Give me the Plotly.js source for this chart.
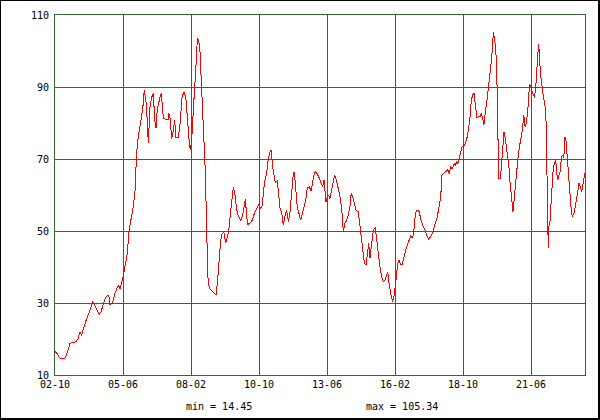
<!DOCTYPE html>
<html>
<head>
<meta charset="utf-8">
<script src="https://cdn.plot.ly/plotly-3.0.1.min.js"></script>
<style>
  html, body { margin: 0; padding: 0; background: #fff; }
  #wrap { position: relative; width: 600px; height: 420px; }
  #chart { width: 600px; height: 420px; }
  #frame { position: absolute; left: 0; top: 0; width: 600px; height: 420px; box-sizing: border-box;
           border: 1px solid #000; border-right-width: 2px; border-bottom-width: 2px; pointer-events: none; }
  .scatterlayer path.js-line { shape-rendering: crispEdges; }
</style>
</head>
<body>
<div id="wrap"><div id="chart"></div><div id="frame"></div></div>
<script>
// months since Oct 2002
const months = [0,0.9,1.9,2.8,3.8,4.7,5.6,6.6,7.1,8.0,8.9,9.9,10.8,11.8,12.6,13.2,14.1,14.9,15.5,16.5,17.7,18.4,19.6,20.8,21.6,22.7,23.5,24.3,25.3,25.9,27.2,28.2,29.2,29.8,30.6,31.7,32.9,34.0,34.8,35.8,36.8,37.6,38.4,39.2,40.0,41.3,42.0,42.8,43.5,43.9,44.7,45.6,46.3,46.9,47.5,48.1,49.1,49.9,50.4,51.0,52.2,53.2,53.6,54.1,54.9,55.7,56.3,56.9,58.0,58.8,59.8,60.8,61.6,62.4,63.2,63.7,64.3,65.1,65.6,66.4,67.0,67.6,68.2,68.7,69.3,69.8,70.3,70.7,71.1,71.4,71.9,72.6,73.7,74.8,75.8,76.4,77.2,78.0,78.7,79.5,80.3,81.1,81.7,82.4,83.9,84.6,85.5,86.4,87.5,88.3,89.1,89.6,90.2,90.7,91.8,92.9,93.6,94.9,95.7,96.8,97.6,98.0,98.8,99.6,100.4,101.2,101.8,102.4,103.1,103.7,104.6,105.3,105.9,106.7,107.4,108.2,109.0,109.8,110.6,111.4,112.1,112.6,113.3,114.0,114.8,115.6,116.4,117.2,118.0,118.7,119.7,120.5,121.3,122.0,122.8,123.6,124.4,125.2,126.0,126.6,127.5,128.1,128.8,129.4,130.2,131.0,131.6,132.6,133.3,134.1,134.9,135.4,135.7,136.3,137.3,138.0,138.8,139.4,140.1,140.7,141.6,142.7,143.5,144.3,145.1,145.6,146.4,147.0,147.6,148.2,149.0,149.8,150.7,151.4,152.1,152.9,153.7,154.5,155.3,156.1,156.6,157.1,157.6,158.3,158.9,159.5,160.1,160.6,161.3,161.9,162.7,163.4,164.2,165.0,165.8,166.6,167.4,168.3,168.9,169.6,170.4,171.4,172.2,173.3,174.1,174.9,175.7,176.8,177.7,178.4,179.3,179.9,180.7,181.5,182.1,183.1,184.0,184.8,185.6,186.2,187.0,187.8,188.4,189.0,189.6,190.3,190.9,191.5,192.5,193.3,194.0,194.7,195.3,195.9,196.6,197.2,197.8,198.5,199.2,200.0,200.6,201.3,201.8,202.2,202.8,203.4,204.1,204.7,205.2,205.7,206.0,206.3,206.7,207.4,207.9,208.2,208.5,208.8,209.6,210.0,210.7,211.3,211.8,212.4,213.0,213.6,214.1,214.6,215.2,215.5,216.1,216.8,217.4,218.0,218.7,219.3,219.9,220.6,221.2,221.8,222.5,223.0,223.4,224.0,224.8,225.6,226.2,226.7,227.2,227.5,227.9,228.4,229.1,229.7,230.3,230.9,231.4,231.7,232.2,232.5,232.9,233.4,233.9,234.5,235.2,235.6,236.1,236.6,237.2,237.8,238.3,238.9,239.4,240.0,240.5,240.9,241.6,242.2,242.8,243.4,244.1,244.7,245.3,246.0,246.6,247.2,247.9,248.5,249.1,249.4];
const values = [16.5,16,15,14.5,14.45,14.6,16,18,18.8,19,19,19.3,20,22,21,22.5,24.5,25.7,26.5,28,30.4,29.5,28,26.9,27.5,29.9,31,31.9,32.1,29.4,30.2,32.7,34,35,34,36.4,40,43.8,49.8,53,56.8,60.5,71.6,76.2,79.4,84,89.2,86,80,74.4,84.5,87.3,88.2,80.8,78.5,83.6,86.4,88.2,85.5,81.3,81,80.8,82.7,81.5,75.7,78,80.8,76,76,79.4,87.3,88.7,86.8,79.9,74.4,72.5,75,83.6,90.1,96.6,103.5,103,100.3,94.3,87.8,79.9,73.4,66.9,57.7,47.5,37.3,34.1,33.5,32.9,32.2,35.5,41.9,47.5,49.4,49.6,46.6,48.5,49.7,54,62.1,60.5,55.8,54,52.9,54.5,57.7,58.8,54,51.7,52.3,53,54.5,56,57.2,56.3,57.2,60.5,64.2,66,70.2,72,72.5,67.9,65.6,63.3,64,59.5,56.3,54.9,51.7,54,55.8,52.6,55.4,60.9,65.6,66.5,62.3,56.8,54.9,53,54.9,57.2,58.6,61.9,62.3,61,64.2,66,66.5,65.6,64.7,63.3,62.3,64.2,58.1,59.5,60,59,61.4,64.6,65.6,63.7,61.9,59.5,56.3,52.1,49.8,52.1,53,54.5,56.8,60.5,59.5,58.1,55.8,55.4,51.2,47.5,42.9,41,40.6,44.7,46.6,42.4,46.1,50.3,51,47,43.8,40.1,37.3,35.9,36.4,38.2,38.7,35.9,33.6,31.7,30.4,31.7,34.5,37.3,41,41.9,40.6,40.8,43.3,44.7,46.1,47.5,48.6,48,50.3,54.9,55.8,55.4,53,51.2,50.3,48.9,47.7,48.4,49.4,51,52.6,54,56.8,59.5,65.6,66.2,66.8,67,66,67.9,67.2,68.8,68.2,69.3,68.8,70.2,71.8,73.4,73.6,74.8,76.2,78.9,81.7,86.4,87.8,88.2,84.5,81.6,81.7,81.7,82.6,81.2,79.4,82.5,84.5,86.9,90.1,94.3,96.6,99.8,102.6,105.34,103.7,100.7,93.8,82.2,70.6,64.6,64.6,68.3,72.3,77.6,76,73.2,70.6,67.9,63.7,60.5,56.8,55.4,59,64.2,68.3,71.1,73.9,76.2,78,82.2,78.9,79.9,83.6,88.2,90.8,89.7,88.2,87.1,89.7,93.3,98.9,101.9,99.8,93.8,90.1,87.8,85.9,83.6,73.4,54.4,45.2,52.1,52.5,56.8,60.9,67.9,68.8,69.7,66,64.2,65.6,66.8,70.6,71,70.2,76.2,74.8,71.6,65.6,59.5,56.8,54,54.7,56.3,59,61.4,63.3,62.3,61,63.3,65.1,66];

const xTickVals = [0, 32, 64, 96, 128, 160, 192, 224];
const xTickText = ["02-10", "05-06", "08-02", "10-10", "13-06", "16-02", "18-10", "21-06"];
const yTickVals = [10, 30, 50, 70, 90, 110];
const minLabel = "min = 14.45";
const maxLabel = "max = 105.34";

const grid = "#336633";
const font = { family: "DejaVu Sans Mono, monospace", size: 10, color: "#000000" };

Plotly.newPlot("chart", [{
  x: months, y: values, type: "scatter", mode: "lines",
  line: { color: "#ff0000", width: 1 }, hoverinfo: "skip"
}], {
  width: 600, height: 420,
  margin: { l: 55, r: 15, t: 15, b: 45, pad: 0 },
  paper_bgcolor: "#ffffff", plot_bgcolor: "#ffffff",
  showlegend: false,
  font: font,
  xaxis: {
    range: [0, 249.4], tickvals: xTickVals, ticktext: xTickText,
    showgrid: true, gridcolor: grid, gridwidth: 1, zeroline: false,
    showline: true, linecolor: grid, linewidth: 1, mirror: true,
    ticks: "", tickfont: font
  },
  yaxis: {
    range: [10, 110], tickvals: yTickVals,
    showgrid: true, gridcolor: grid, gridwidth: 1, zeroline: false,
    showline: true, linecolor: grid, linewidth: 1, mirror: true,
    ticks: "", tickfont: font, ticklabelstandoff: 3
  },
  annotations: [
    { text: minLabel, xref: "paper", yref: "paper", x: (184 - 55) / 530, y: -31.5 / 360,
      xanchor: "left", yanchor: "middle", showarrow: false, font: font },
    { text: maxLabel, xref: "paper", yref: "paper", x: (364 - 55) / 530, y: -31.5 / 360,
      xanchor: "left", yanchor: "middle", showarrow: false, font: font }
  ]
}, { staticPlot: true, displayModeBar: false });
</script>
</body>
</html>
